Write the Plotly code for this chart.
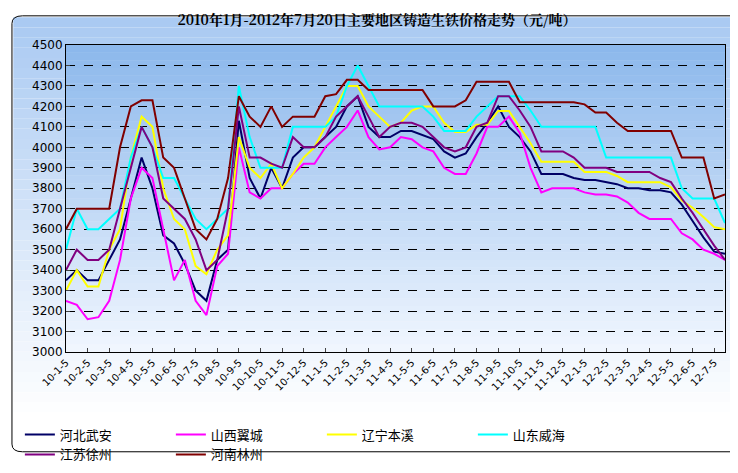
import plotly.graph_objects as go

months = ["10-1-5", "10-2-5", "10-3-5", "10-4-5", "10-5-5", "10-6-5", "10-7-5", "10-8-5",
          "10-9-5", "10-10-5", "10-11-5", "10-12-5", "11-1-5", "11-2-5", "11-3-5", "11-4-5",
          "11-5-5", "11-6-5", "11-7-5", "11-8-5", "11-9-5", "11-10-5", "11-11-5", "11-12-5",
          "12-1-5", "12-2-5", "12-3-5", "12-4-5", "12-5-5", "12-6-5", "12-7-5"]

hebei_wuan = [3350, 3400, 3350, 3350, 3450, 3550, 3750, 3950, 3800, 3570, 3530, 3430, 3300, 3250, 3450, 3500,
              4130, 3850, 3750, 3900, 3800, 3950, 4000, 4000, 4050, 4100, 4200, 4250, 4100, 4050, 4050, 4080,
              4080, 4060, 4040, 3980, 3950, 3970, 4050, 4120, 4200, 4100, 4050, 3980, 3870, 3870, 3870, 3850,
              3840, 3840, 3830, 3820, 3800, 3800, 3790, 3790, 3780, 3720, 3640, 3560, 3490, 3480]
shanxi_yicheng = [3250, 3230, 3160, 3170, 3250, 3450, 3750, 3900, 3850, 3600, 3350, 3450, 3250, 3180, 3420, 3480,
                  4000, 3780, 3750, 3800, 3800, 3870, 3920, 3920, 4000, 4050, 4100, 4180, 4050, 3990, 4000, 4050,
                  4040, 4000, 3980, 3900, 3870, 3870, 3970, 4100, 4100, 4150, 4070, 3900, 3780, 3800, 3800, 3800,
                  3780, 3770, 3770, 3760, 3730, 3680, 3650, 3650, 3650, 3580, 3550, 3500, 3480, 3450]
liaoning_benxi = [3300, 3400, 3320, 3320, 3500, 3600, 3950, 4150, 4100, 3800, 3650, 3600, 3420, 3380, 3500, 3570,
                  4050, 3900, 3850, 3920, 3800, 3870, 3950, 4000, 4100, 4200, 4300, 4300, 4200, 4150, 4100, 4120,
                  4180, 4200, 4200, 4120, 4075, 4075, 4110, 4110, 4178, 4178, 4100, 4020, 3930, 3930, 3930, 3930,
                  3880, 3880, 3880, 3860, 3830, 3830, 3830, 3830, 3805, 3740, 3705, 3660, 3610, 3600]
shandong_weihai = [3500, 3700, 3600, 3600, 3650, 3700, 3950, 4100, 4000, 3850, 3850, 3750, 3650, 3600, 3650, 3700,
                   4300, 4050, 3900, 3900, 3900, 4100, 4100, 4100, 4100, 4150, 4300, 4400, 4300, 4200, 4200, 4200,
                   4200, 4200, 4150, 4080, 4080, 4080, 4150, 4200, 4250, 4250, 4250, 4180, 4100, 4100, 4100, 4100,
                   4100, 4100, 3950, 3950, 3950, 3950, 3950, 3950, 3950, 3800, 3750, 3750, 3750, 3630]
jiangsu_xuzhou = [3400, 3500, 3450, 3450, 3500, 3700, 3900, 4100, 4000, 3750, 3700, 3650, 3550, 3400, 3450, 3700,
                  4200, 3950, 3950, 3920, 3900, 4050, 4000, 4000, 4050, 4150, 4200, 4250, 4150, 4050, 4100, 4120,
                  4120, 4100, 4050, 4000, 3980, 4000, 4100, 4120, 4250, 4250, 4180, 4100, 3980, 3980, 3980, 3950,
                  3900, 3900, 3900, 3880, 3880, 3880, 3880, 3850, 3830, 3750, 3680, 3600, 3520, 3450]
henan_linzhou = [3600, 3700, 3700, 3700, 3700, 4000, 4200, 4230, 4230, 3950, 3900, 3750, 3600, 3550, 3650, 3850,
                 4250, 4150, 4100, 4200, 4100, 4150, 4150, 4150, 4250, 4260, 4330, 4330, 4280, 4280, 4280, 4280,
                 4280, 4280, 4200, 4200, 4200, 4230, 4320, 4320, 4320, 4320, 4220, 4220, 4220, 4220, 4220, 4220,
                 4210, 4170, 4170, 4120, 4080, 4080, 4080, 4080, 4080, 3950, 3950, 3950, 3750, 3770]

series = [("河北武安", hebei_wuan, "#000066"),
          ("山西翼城", shanxi_yicheng, "#ff00ff"),
          ("辽宁本溪", liaoning_benxi, "#ffff00"),
          ("山东威海", shandong_weihai, "#00ffff"),
          ("江苏徐州", jiangsu_xuzhou, "#800080"),
          ("河南林州", henan_linzhou, "#800000")]

x = list(range(len(hebei_wuan)))

fig = go.Figure()
for name, vals, color in series:
    fig.add_trace(go.Scatter(x=x, y=vals, mode="lines", name=name,
                             line=dict(color=color, width=2)))


def blend(c1, c2, t):
    return "rgb(%d,%d,%d)" % tuple(round(a + (b - a) * t) for a, b in zip(c1, c2))


# gradient backgrounds built from thin bands
shapes = []
n = 40
for i in range(n):
    t = i / (n - 1)
    shapes.append(dict(type="rect", xref="paper", yref="paper", x0=-0.08, x1=1.03,
                       y0=1.09 - (i + 1) * 1.32 / n, y1=1.09 - i * 1.32 / n,
                       fillcolor=blend((170, 202, 242), (255, 255, 255), t),
                       line=dict(width=0), layer="below"))
for i in range(n):
    t = i / (n - 1)
    shapes.append(dict(type="rect", xref="x domain", yref="y domain", x0=0, x1=1,
                       y0=1 - (i + 1) / n, y1=1 - i / n,
                       fillcolor=blend((140, 184, 236), (240, 246, 254), t),
                       line=dict(width=0), layer="below"))
# rounded outer frame
shapes.append(dict(type="path", xref="paper", yref="paper", layer="above",
                   path="M -0.066,1.095 L 1.01,1.095 Q 1.026,1.095 1.026,1.07 L 1.026,-0.3 "
                        "Q 1.026,-0.325 1.01,-0.325 L -0.066,-0.325 Q -0.082,-0.325 -0.082,-0.3 "
                        "L -0.082,1.07 Q -0.082,1.095 -0.066,1.095 Z",
                   line=dict(color="black", width=1)))

fig.update_layout(
    width=738, height=473,
    margin=dict(l=55, r=21, t=37, b=105),
    paper_bgcolor="white", plot_bgcolor="rgba(0,0,0,0)",
    shapes=shapes,
    font=dict(family="Noto Sans CJK SC", color="black"),
    title=dict(text="<b>2010年1月-2012年7月20日主要地区铸造生铁价格走势（元/吨）</b>",
               x=0.5, y=0.975, xanchor="center", yanchor="middle",
               font=dict(size=14, family="Noto Serif CJK SC, Noto Sans CJK SC")),
    showlegend=True,
    legend=dict(orientation="h", x=-0.07, y=-0.22, xanchor="left", yanchor="top",
                entrywidth=106, bgcolor="rgba(0,0,0,0)", font=dict(size=13)),
)
fig.update_xaxes(range=[0, len(x) - 1], tickvals=x[::2], ticktext=months, tickangle=-45,
                 tickfont=dict(size=10, family="DejaVu Sans"), showgrid=False, automargin=False,
                 showline=True, linecolor="black", mirror=True, ticks="inside", ticklen=4)
fig.update_yaxes(range=[3000, 4500], dtick=100, tickfont=dict(size=12, family="DejaVu Sans"),
                 showgrid=True, gridcolor="black", griddash="dash", gridwidth=1, automargin=False,
                 showline=True, linecolor="black", mirror=True, ticks="inside", ticklen=4,
                 zeroline=False)

fig.write_html("out.html")
